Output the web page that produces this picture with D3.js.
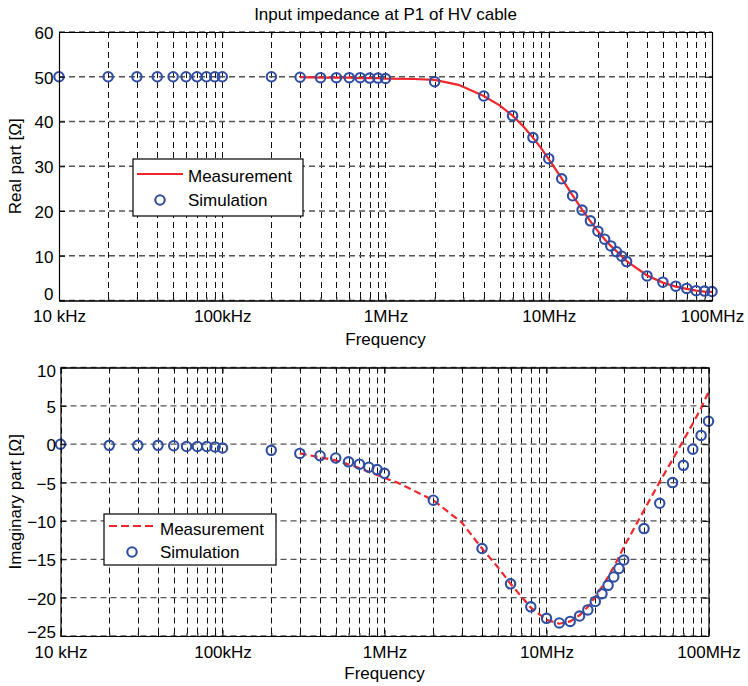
<!DOCTYPE html>
<html><head><meta charset="utf-8">
<script src="https://cdn.jsdelivr.net/npm/d3@7"></script>
<style>
html,body{margin:0;padding:0;background:#fff;}
svg text{font-family:"Liberation Sans",Arial,Helvetica,sans-serif;font-size:17px;fill:#000;}
</style></head>
<body>
<svg id="c" width="748" height="686"></svg>
<script>
// ---- data ----
const simFreq = [1e4,2e4,3e4,4e4,5e4,6e4,7e4,8e4,9e4,1e5,
  2e5,3e5,4e5,5e5,6e5,7e5,8e5,9e5,1e6,
  2e6,4e6,6e6,8e6,1e7,
  1.2e7,1.4e7,1.6e7,1.8e7,2e7,2.2e7,2.4e7,2.6e7,2.8e7,3e7,
  4e7,5e7,6e7,7e7,8e7,9e7,1e8];
const simReal = [50,50,50,50,50,50,50,50,50,50,
  50,49.9,49.8,49.8,49.8,49.8,49.7,49.7,49.6,
  48.9,45.7,41.3,36.4,31.7,
  27.2,23.4,20.2,17.8,15.5,13.7,12.2,10.9,9.9,8.7,
  5.5,4.1,3.2,2.7,2.2,2.1,2.0];
const simImag = [0,-0.15,-0.15,-0.15,-0.2,-0.3,-0.3,-0.3,-0.35,-0.5,
  -0.8,-1.2,-1.5,-1.8,-2.3,-2.6,-3.0,-3.3,-3.8,
  -7.3,-13.6,-18.2,-21.2,-22.7,
  -23.3,-23.1,-22.4,-21.6,-20.5,-19.5,-18.4,-17.3,-16.2,-15.1,
  -11.0,-7.7,-5.0,-2.75,-0.65,1.15,3.0];

const measRealFreq = [3e5,4e5,5e5,6e5,7e5,8e5,9e5,1e6,1.5e6,2e6,2.8e6,4e6,5e6,6e6,7e6,8e6,9e6,1e7,
  1.2e7,1.4e7,1.6e7,1.8e7,2e7,2.2e7,2.4e7,2.6e7,2.8e7,3e7,4e7,5e7,6e7,7e7,8e7,9e7,1e8];
const measReal = [49.9,49.8,49.8,49.8,49.7,49.7,49.7,49.6,49.5,49.3,48.2,45.7,43.6,41.3,38.9,36.4,34.0,31.6,
  27.3,23.5,20.3,17.7,15.5,13.7,12.2,11.0,9.9,8.8,5.6,4.0,3.1,2.6,2.2,2.0,1.9];

const measImagFreq = [3e5,5e5,7e5,1e6,1.2e6,1.5e6,2e6,3e6,4e6,5e6,6e6,8e6,1e7,
  1.2e7,1.4e7,1.6e7,1.8e7,2e7,2.2e7,2.4e7,2.6e7,2.8e7,3e7,4e7,5e7,6e7,7e7,8e7,9e7,1e8];
const measImag = [-1.2,-2.1,-3.1,-4.4,-5.0,-6.0,-7.3,-10.2,-13.6,-16.0,-18.2,-21.3,-22.9,
  -23.4,-23.1,-22.3,-21.2,-19.9,-18.6,-17.3,-16.0,-14.7,-13.4,-8.6,-4.9,-2.0,0.5,2.7,4.7,6.8];

const xMajorTicks = [1e4,1e5,1e6,1e7,1e8];
const xTickLabels = ["10 kHz","100kHz","1MHz","10MHz","100MHz"];
const xMinorTicks = [2e4,3e4,4e4,5e4,6e4,7e4,8e4,9e4,2e5,3e5,4e5,5e5,6e5,7e5,8e5,9e5,
  2e6,3e6,4e6,5e6,6e6,7e6,8e6,9e6,2e7,3e7,4e7,5e7,6e7,7e7,8e7,9e7];
const realTicks = [0,10,20,30,40,50,60];
const imagTicks = [-25,-20,-15,-10,-5,0,5,10];

const titleText = "Input impedance at P1 of HV cable";
const xLabel = "Frequency";
const realLabel = "Real part [Ω]";
const imagLabel = "Imaginary part [Ω]";
const legendNames = ["Measurement","Simulation"];

// ---- styles ----
const RED = "#f2262a", BLUE = "#2f4ea3";
const svg = d3.select("#c");

function panel(o){
  const x = d3.scaleLog().domain([1e4,1e8]).range([o.x0,o.x1]);
  const y = d3.scaleLinear().domain(o.ydom).range([o.y1,o.y0]);
  const g = svg.append("g");
  // grid
  const allX = xMajorTicks.concat(xMinorTicks);
  g.append("g").selectAll("line").data(allX).join("line")
    .attr("x1",d=>Math.round(x(d))+0.5).attr("x2",d=>Math.round(x(d))+0.5)
    .attr("y1",o.y0).attr("y2",o.y1)
    .attr("stroke","#111").attr("stroke-width",1).attr("stroke-dasharray","6,4");
  g.append("g").selectAll("line").data(o.yticks).join("line")
    .attr("x1",o.x0).attr("x2",o.x1)
    .attr("y1",d=>y(d)).attr("y2",d=>y(d))
    .attr("stroke","#555").attr("stroke-width",1.3).attr("stroke-dasharray","6,4");
  // measurement line
  const line = d3.line().x(d=>x(d[0])).y(d=>y(d[1]));
  g.append("path").datum(o.mf.map((f,i)=>[f,o.mv[i]]))
    .attr("d",line).attr("fill","none").attr("stroke",RED).attr("stroke-width",2.2)
    .attr("stroke-dasharray",o.dash?"7,4":null);
  // simulation
  g.append("g").selectAll("circle").data(simFreq.map((f,i)=>[f,o.sv[i]])).join("circle")
    .attr("cx",d=>x(d[0])).attr("cy",d=>y(d[1])).attr("r",4.7)
    .attr("fill","none").attr("stroke",BLUE).attr("stroke-width",2.1);
  // axes
  const ax = d3.axisBottom(x).tickValues(xMajorTicks).tickFormat((d,i)=>xTickLabels[i])
    .tickSize(-6).tickSizeOuter(0).tickPadding(9.5);
  const gx = g.append("g").attr("transform",`translate(0,${o.y1})`).call(ax);
  g.append("g").attr("transform",`translate(0,${o.y1})`)
    .call(d3.axisBottom(x).tickValues(xMinorTicks).tickFormat("").tickSize(-3).tickSizeOuter(0));
  g.append("g").attr("transform",`translate(0,${o.y0})`)
    .call(d3.axisTop(x).tickValues(xMajorTicks).tickFormat("").tickSize(-6).tickSizeOuter(0));
  g.append("g").attr("transform",`translate(0,${o.y0})`)
    .call(d3.axisTop(x).tickValues(xMinorTicks).tickFormat("").tickSize(-3).tickSizeOuter(0));
  const gy = g.append("g").attr("transform",`translate(${o.x0},0)`)
    .call(d3.axisLeft(y).tickValues(o.yticks).tickFormat(d3.format("d")).tickSize(-6).tickSizeOuter(0).tickPadding(o.ypad));
  g.append("g").attr("transform",`translate(${o.x1},0)`)
    .call(d3.axisRight(y).tickValues(o.yticks).tickFormat("").tickSize(-6).tickSizeOuter(0));
  g.selectAll(".domain").attr("stroke","#000").attr("stroke-width",1.2);
  g.selectAll(".tick line").attr("stroke","#000");
  g.selectAll(".tick text").attr("font-size",null).attr("font-family",null).style("font-size","17px");
  gx.selectAll("text").attr("fill","#000");
  // y tick label vertical nudges (end labels kept inside the axes span, as in the reference)
  const lo = o.ydom[0], hi = o.ydom[1];
  gy.selectAll(".tick text").attr("fill","#000")
    .attr("y",d=> d===lo ? o.loShift : (d===hi ? o.hiShift : 1));
  // labels
  g.append("text").attr("x",(o.x0+o.x1)/2).attr("y",o.xlabY).attr("text-anchor","middle").text(xLabel);
  g.append("text").attr("transform",`translate(${o.ylabX},${(o.y0+o.y1)/2}) rotate(-90)`)
    .attr("text-anchor","middle").text(o.ylabel);
  // legend
  const L = o.leg;
  const lg = g.append("g");
  lg.append("rect").attr("x",L.x).attr("y",L.y).attr("width",L.w).attr("height",L.h)
    .attr("fill","#fff").attr("stroke","#000").attr("stroke-width",1.2);
  lg.append("line").attr("x1",L.lx1).attr("x2",L.lx2).attr("y1",L.ly1).attr("y2",L.ly1)
    .attr("stroke",RED).attr("stroke-width",2.2).attr("stroke-dasharray",o.dash?"8,4":null);
  lg.append("circle").attr("cx",(L.lx1+L.lx2)/2).attr("cy",L.ly2).attr("r",4.7)
    .attr("fill","none").attr("stroke",BLUE).attr("stroke-width",2.1);
  lg.append("text").attr("x",L.tx).attr("y",L.tb1).text(legendNames[0]);
  lg.append("text").attr("x",L.tx).attr("y",L.tb2).text(legendNames[1]);
}

panel({x0:59,x1:712,y0:32,y1:300.5,ydom:[0,60],yticks:realTicks,sv:simReal,
  mf:measRealFreq,mv:measReal,dash:false,ypad:5.5,loShift:-6,hiShift:1.5,xlabY:345,ylabX:20.5,ylabel:realLabel,
  leg:{x:133,y:159,w:170,h:57,lx1:137,lx2:183,ly1:174,ly2:200,tx:188,tb1:181.5,tb2:206}});
panel({x0:60.5,x1:708.5,y0:367.5,y1:636,ydom:[-25,10],yticks:imagTicks,sv:simImag,
  mf:measImagFreq,mv:measImag,dash:true,ypad:4.5,loShift:-4,hiShift:3.5,xlabY:678.5,ylabX:20.5,ylabel:imagLabel,
  leg:{x:104,y:514,w:172,h:51,lx1:109,lx2:155,ly1:526,ly2:552,tx:160,tb1:535,tb2:558}});

svg.append("text").attr("x",385.5).attr("y",19.5).attr("text-anchor","middle").text(titleText);
</script>
</body></html>
